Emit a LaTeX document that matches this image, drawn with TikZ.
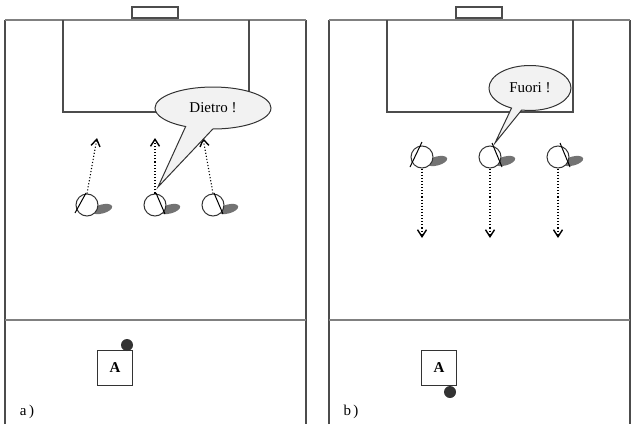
\documentclass[tikz,border=0pt]{standalone}
\usepackage{fontspec}
\setmainfont{Liberation Serif}
\usepackage{tikz}
\usetikzlibrary{shapes.geometric}
\usetikzlibrary{shapes.callouts}
\usetikzlibrary{positioning}
\usetikzlibrary{calc}
\usetikzlibrary{arrows.meta}
\tikzset{every picture/.style={x=1pt,y=-1pt,line width=1pt},
sideline/.style={draw=black!70,line width=1.2pt},
endline/.style={draw=black!50,line width=2pt},
player/.style={circle,draw=black!80,fill=white,minimum size=22pt,inner sep=0pt},
shade/.style={ellipse,fill=black!55,minimum width=21pt,minimum height=9pt,inner sep=0pt,rotate=15},
run/.style={dotted,line width=1.1pt,-{Straight Barb[length=7pt,width=9pt,line width=1.4pt]}},
bubble/.style={ellipse callout,draw=black!80,fill=black!5,inner sep=0pt},
ball/.style={circle,fill=black!80,minimum size=12pt,inner sep=0pt},
coach/.style={draw=black!80,fill=white,minimum size=35pt,inner sep=0pt,font=\fontsize{15}{17}\selectfont\bfseries}}

\begin{document}
\begin{tikzpicture}[font=\fontsize{15}{17}\selectfont]
\useasboundingbox (0,0) rectangle (640,442);

% the two half fields
\foreach \p/\dx in {a/0, b/324} {
\draw [sideline] (5+\dx,424) -- (5+\dx,20);
\draw [sideline] (306+\dx,20) -- (306+\dx,424);
\draw [endline] (5+\dx,20) -- (306+\dx,20);
\draw [endline] (5+\dx,320) -- (306+\dx,320);
\draw [sideline] (63+\dx,20) -- (63+\dx,112) -- (249+\dx,112) -- (249+\dx,20);
\draw [sideline] (132+\dx,7) rectangle (178+\dx,18);
\node (coach\p) at (115+\dx,368) [coach] {A};
\node (lab\p) at (27+\dx,412) {\p\,)};
}

% a) players going back
\foreach \i/\x/\tx in {1/87/97, 2/155/155, 3/213/203} {
\node (sa\i) at (\x+15,209) [shade] {};
\node (pa\i) at (\x,205) [player] {};
\coordinate (ta\i) at (\tx,138);
\draw [run] (pa\i.north) -- (ta\i);
}
\draw ($(pa1)+(-12,8)$) -- ($(pa1)+(-1,-12)$);
\foreach \i in {2, 3} {
\draw ($(pa\i)+(1,-12)$) -- ($(pa\i)+(10,9)$);
}

% b) players going out
\foreach \i/\x in {1/422, 2/490, 3/558} {
\node (sb\i) at (\x+15,161) [shade] {};
\node (pb\i) at (\x,157) [player] {};
\coordinate (tb\i) at (\x,238);
\draw [run] (pb\i.south) -- (tb\i);
}
\draw ($(pb1)+(-12,10)$) -- ($(pb1)+(0,-15)$);
\foreach \i in {2, 3} {
\draw ($(pb\i)+(2,-14)$) -- ($(pb\i)+(12,10)$);
}

\coordinate (tipa) at (158,187);
\coordinate (tipb) at (495,143);
\node (dietro) at (213,108) [bubble,minimum width=116pt,minimum height=42pt,callout pointer arc=28,callout absolute pointer={(tipa)}] {Dietro !};
\node (fuori) at (530,88) [bubble,minimum width=82pt,minimum height=45pt,callout absolute pointer={(tipb)}] {Fuori !};

\node (balla) at (127,345) [ball] {};
\node (ballb) at (450,392) [ball] {};

\end{tikzpicture}
\end{document}
